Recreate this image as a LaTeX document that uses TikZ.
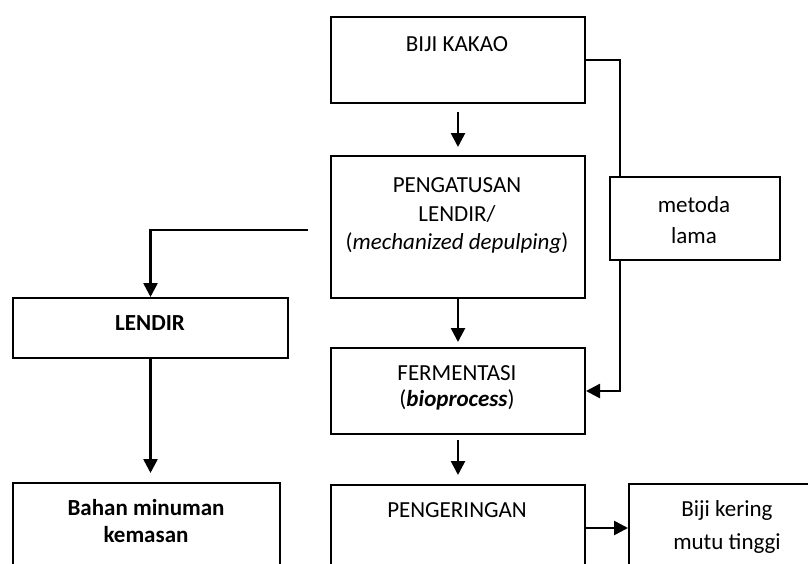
\documentclass[tikz,border=0pt]{standalone}
\usepackage{fontspec}
\setmainfont{Carlito}
\usetikzlibrary{arrows.meta,calc}
\tikzset{
  box/.style={draw,line width=2pt,fill=white,inner sep=0pt,anchor=north west},
  txt/.style={inner sep=0pt,font=\fontsize{23}{28}\selectfont},
  conn/.style={line width=2.6pt},
  arr/.style={line width=2.6pt,-{Triangle[length=14pt,width=14pt]}}
}
\begin{document}
\begin{tikzpicture}[x=1pt,y=-1pt]
\useasboundingbox (0,0) rectangle (808,563);
\clip (0,0) rectangle (808,563);
% boxes
\node[box,minimum width=254pt,minimum height=86pt] (biji) at (330,16) {};
\node[box,minimum width=254pt,minimum height=142pt] (peng) at (330,155) {};
\node[box,minimum width=254pt,minimum height=86pt] (ferm) at (330,347) {};
\node[box,minimum width=254pt,minimum height=130pt] (penger) at (330,484) {};
\node[box,minimum width=170pt,minimum height=83pt] (metoda) at (609,176) {};
\node[box,minimum width=275pt,minimum height=60pt] (lendir) at (12,297) {};
\node[box,minimum width=267pt,minimum height=130pt] (bahan) at (12,482) {};
\node[box,minimum width=200pt,minimum height=130pt] (kering) at (628,483) {};
% texts
\node[txt] (t1) at (457,44) {BIJI KAKAO};
\node[txt] (t2a) at (457,185) {PENGATUSAN};
\node[txt] (t2b) at (457,214) {LENDIR/};
\node[txt] (t2c) at (457,243) {(\textit{mechanized depulping})};
\node[txt] (t3a) at (457,373) {FERMENTASI};
\node[txt] (t3b) at (457,400) {(\textbf{\textit{bioprocess}})};
\node[txt] (t4) at (457,510) {PENGERINGAN};
\node[txt] (t5a) at (694,205) {metoda};
\node[txt] (t5b) at (694,236) {lama};
\node[txt] (t6) at (150,323) {\textbf{LENDIR}};
\node[txt] (t7a) at (146,508) {\textbf{Bahan minuman}};
\node[txt] (t7b) at (146,535) {\textbf{kemasan}};
\node[txt] (t8a) at (727,510) {Biji kering};
\node[txt] (t8b) at (727,544) {mutu tinggi};
% connectors
\draw[arr] ([yshift=-8pt]biji.south) -- ([yshift=8pt]peng.north);
\draw[arr] (peng.south) -- ([yshift=5pt]ferm.north);
\draw[arr] ([yshift=-5pt]ferm.south) -- ([yshift=9pt]penger.north);
\draw[conn] (biji.east) -| ($(metoda.north west)+(11,0)$);
\draw[arr] ($(metoda.south west)+(11,0)$) |- (ferm.east);
\coordinate (pl) at (308,230);
\draw[arr] (pl) -| (lendir.north);
\draw[arr] (lendir.south) -- ([yshift=9pt]bahan.north -| lendir.south);
\draw[arr] ($(penger.north east)+(0,44)$) -- ($(kering.north west)+(0,45)$);
\end{tikzpicture}
\end{document}
